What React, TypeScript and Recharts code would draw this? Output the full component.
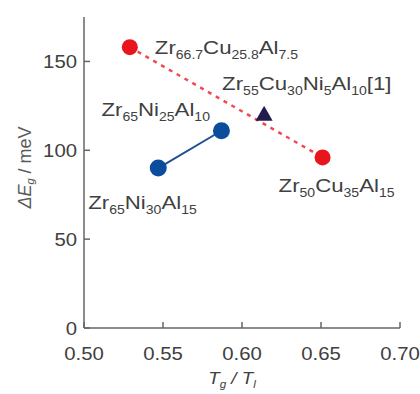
import React from "react";
import {
  ScatterChart,
  Scatter,
  XAxis,
  YAxis,
  LabelList,
} from "recharts";

// Reduced glass transition temperature Tg/Tl
const cuAlloyRatio = [0.529, 0.651];
const niAlloyRatio = [0.547, 0.587];
const refAlloyRatio = [0.614];

// Activation energy ΔEg in meV
const cuAlloyEnergy = [158, 96];
const niAlloyEnergy = [90, 111];
const refAlloyEnergy = [120];

// Alloy compositions
const cuAlloyNames = ["Zr66.7Cu25.8Al7.5", "Zr50Cu35Al15"];
const niAlloyNames = ["Zr65Ni30Al15", "Zr65Ni25Al10"];
const refAlloyNames = ["Zr55Cu30Ni5Al10[1]"];

const xTicks = [0.5, 0.55, 0.6, 0.65, 0.7];
const yTicks = [0, 50, 100, 150];

const build = (xs: number[], ys: number[], names: string[]) =>
  xs.map((x, i) => ({ x, y: ys[i], name: names[i] }));

const cuData = build(cuAlloyRatio, cuAlloyEnergy, cuAlloyNames);
const niData = build(niAlloyRatio, niAlloyEnergy, niAlloyNames);
const refData = build(refAlloyRatio, refAlloyEnergy, refAlloyNames);

// Label placement (pixel offsets from the marker to the text baseline start)
const labelOffsets: Record<string, [number, number]> = {
  "Zr66.7Cu25.8Al7.5": [25, 7],
  "Zr50Cu35Al15": [-44, 35],
  "Zr65Ni30Al15": [-70, 41],
  "Zr65Ni25Al10": [-120, -15],
  "Zr55Cu30Ni5Al10[1]": [-42, -25],
};

const FONT = "'Liberation Sans', Arial, Helvetica, sans-serif";
const TEXT = "#404040";
const AXIS = "#666666";
const MAIN = 19;
const SUB = 12;
const WIDE = 1.17; // horizontal stretch for the composition labels
const TICK_WIDE = 1.13; // horizontal stretch for tick numbers

function Formula({ x, y, value }: { x: number; y: number; value: string }) {
  const parts: React.ReactNode[] = [];
  const re = /([A-Z][a-z]?)(\d+(?:\.\d+)?)?|(\[\d+\])/g;
  let m: RegExpExecArray | null;
  let k = 0;
  let lowered = false;
  while ((m = re.exec(value)) !== null) {
    if (m[3]) {
      parts.push(
        <tspan key={k++} dy={lowered ? -5 : 0} fontSize={MAIN}>
          {m[3]}
        </tspan>
      );
      lowered = false;
      continue;
    }
    parts.push(
      <tspan key={k++} dy={lowered ? -5 : 0} fontSize={MAIN}>
        {m[1]}
      </tspan>
    );
    lowered = false;
    if (m[2]) {
      parts.push(
        <tspan key={k++} dy={5} fontSize={SUB}>
          {m[2]}
        </tspan>
      );
      lowered = true;
    }
  }
  return (
    <text
      x={0}
      y={0}
      transform={`translate(${x},${y}) scale(${WIDE},1)`}
      fill={TEXT}
      fontFamily={FONT}
      textAnchor="start"
    >
      {parts}
    </text>
  );
}

const renderLabel = (props: any) => {
  const { x, y, width, height, value } = props;
  const cx = x + (width || 0) / 2;
  const cy = y + (height || 0) / 2;
  const off = labelOffsets[value] || [0, 0];
  return <Formula x={cx + off[0]} y={cy + off[1]} value={value} />;
};

const TickText = ({
  x,
  y,
  anchor,
  children,
}: {
  x: number;
  y: number;
  anchor: "start" | "middle" | "end";
  children: React.ReactNode;
}) => (
  <text
    x={0}
    y={0}
    transform={`translate(${x},${y}) scale(${TICK_WIDE},1)`}
    textAnchor={anchor}
    fill={TEXT}
    fontFamily={FONT}
    fontSize={18}
  >
    {children}
  </text>
);

const BottomTick = (props: any) => {
  const { x, y, payload } = props;
  return (
    <g>
      <line x1={x} y1={y} x2={x} y2={y - 6} stroke={AXIS} strokeWidth={1.5} />
      <TickText x={x} y={y + 32} anchor="middle">
        {payload.value.toFixed(2)}
      </TickText>
    </g>
  );
};

const TopTick = (props: any) => {
  const { x, y } = props;
  return <line x1={x} y1={y} x2={x} y2={y + 6} stroke={AXIS} strokeWidth={1.5} />;
};

const LeftTick = (props: any) => {
  const { x, y, payload } = props;
  return (
    <g>
      <line x1={x} y1={y} x2={x + 6} y2={y} stroke={AXIS} strokeWidth={1.5} />
      <TickText x={x - 7} y={y + 7} anchor="end">
        {payload.value}
      </TickText>
    </g>
  );
};

const RightTick = (props: any) => {
  const { x, y } = props;
  return <line x1={x} y1={y} x2={x - 6} y2={y} stroke={AXIS} strokeWidth={1.5} />;
};

const XTitle = (props: any) => {
  const { viewBox } = props;
  const cx = viewBox.x + viewBox.width / 2 - 10;
  return (
    <text
      x={0}
      y={0}
      transform={`translate(${cx},${viewBox.y + 56}) scale(${WIDE},1)`}
      textAnchor="middle"
      fill={TEXT}
      fontFamily={FONT}
      fontSize={16}
      fontStyle="italic"
    >
      <tspan>T</tspan>
      <tspan dy={4} fontSize={10}>g</tspan>
      <tspan dy={-4}> / T</tspan>
      <tspan dy={4} fontSize={10}>l</tspan>
    </text>
  );
};

const YTitle = (props: any) => {
  const { viewBox } = props;
  const cx = 31;
  const cy = viewBox.y + viewBox.height / 2 - 5;
  return (
    <text
      x={cx}
      y={cy}
      transform={`rotate(-90 ${cx} ${cy})`}
      textAnchor="middle"
      fill="#5a5a5a"
      fontFamily={FONT}
      fontSize={18}
    >
      <tspan fontStyle="italic">ΔE</tspan>
      <tspan dy={3} fontSize={11} fontStyle="italic">g</tspan>
      <tspan dy={-3}> / meV</tspan>
    </text>
  );
};

export default function App() {
  return (
    <>
      <style>{`body{margin:0;overflow:hidden}`}</style>
      <ScatterChart
        width={420}
        height={394}
        margin={{ top: 17, right: 20, bottom: 26, left: 8 }}
      >
        <XAxis
          xAxisId="b"
          type="number"
          dataKey="x"
          domain={[0.5, 0.7]}
          ticks={xTicks}
          allowDataOverflow
          height={40}
          tickSize={0}
          tickMargin={0}
          tickLine={false}
          axisLine={{ stroke: AXIS, strokeWidth: 1.5 }}
          tick={<BottomTick />}
          interval={0}
          label={<XTitle />}
        />
        <XAxis
          xAxisId="t"
          orientation="top"
          type="number"
          dataKey="x"
          domain={[0.5, 0.7]}
          ticks={xTicks}
          allowDataOverflow
          height={0}
          tickSize={0}
          tickMargin={0}
          tickLine={false}
          axisLine={{ stroke: AXIS, strokeWidth: 1.5 }}
          tick={<TopTick />}
          interval={0}
        />
        <YAxis
          yAxisId="l"
          type="number"
          dataKey="y"
          domain={[0, 175]}
          ticks={yTicks}
          allowDataOverflow
          width={76}
          tickSize={0}
          tickMargin={0}
          tickLine={false}
          axisLine={{ stroke: AXIS, strokeWidth: 1.5 }}
          tick={<LeftTick />}
          interval={0}
          label={<YTitle />}
        />
        <YAxis
          yAxisId="r"
          orientation="right"
          type="number"
          dataKey="y"
          domain={[0, 175]}
          ticks={yTicks}
          allowDataOverflow
          width={0}
          tickSize={0}
          tickMargin={0}
          tickLine={false}
          axisLine={{ stroke: AXIS, strokeWidth: 1.5 }}
          tick={<RightTick />}
          interval={0}
        />
        <Scatter
          xAxisId="b"
          yAxisId="l"
          data={cuData}
          fill="#e8151d"
          line={{ stroke: "#ee4a50", strokeWidth: 2.5, strokeDasharray: "4 5" }}
          shape={(p: any) => <circle cx={p.cx} cy={p.cy} r={8} fill="#e8151d" />}
          isAnimationActive={false}
        >
          <LabelList dataKey="name" content={renderLabel} />
        </Scatter>
        <Scatter
          xAxisId="b"
          yAxisId="l"
          data={niData}
          fill="#0b4d9c"
          line={{ stroke: "#1f4f96", strokeWidth: 2 }}
          shape={(p: any) => <circle cx={p.cx} cy={p.cy} r={8.5} fill="#0b4d9c" />}
          isAnimationActive={false}
        >
          <LabelList dataKey="name" content={renderLabel} />
        </Scatter>
        <Scatter
          xAxisId="b"
          yAxisId="l"
          data={refData}
          fill="#221b4e"
          shape={(p: any) => (
            <path
              d={`M${p.cx},${p.cy - 9} L${p.cx + 8.5},${p.cy + 6} L${p.cx - 8.5},${p.cy + 6} Z`}
              fill="#221b4e"
            />
          )}
          isAnimationActive={false}
        >
          <LabelList dataKey="name" content={renderLabel} />
        </Scatter>
      </ScatterChart>
    </>
  );
}
